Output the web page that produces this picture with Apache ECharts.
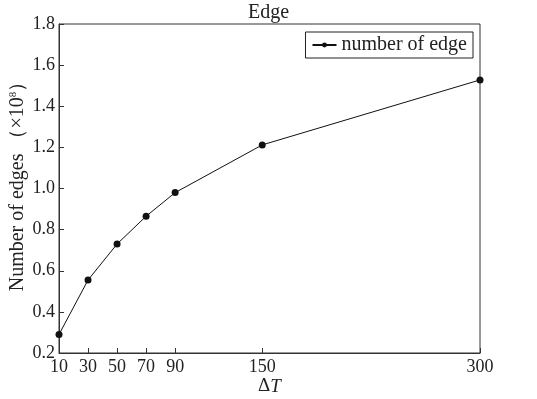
<!DOCTYPE html>
<html>
<head>
<meta charset="utf-8">
<script src="https://cdn.jsdelivr.net/npm/echarts@6/dist/echarts.min.js"></script>
<style>
html,body{margin:0;padding:0;background:#fff;}
#chart{width:537px;height:399px;}
</style>
</head>
<body>
<div id="chart"></div>
<script>
var deltaT = [10, 30, 50, 70, 90, 150, 300];
var edgeCount = [0.29, 0.555, 0.73, 0.865, 0.98, 1.212, 1.528];
var xTicks = [10, 30, 50, 70, 90, 150, 300];

var font = '"Liberation Serif", "DejaVu Serif", serif';
var chart = echarts.init(document.getElementById('chart'));

var option = {
    backgroundColor: '#fff',
    animation: false,
    title: {
        text: 'Edge',
        left: 'center',
        top: -2,
        textStyle: {fontFamily: font, fontSize: 20, fontWeight: 'normal', color: '#222'}
    },
    legend: {
        right: 64,
        top: 32,
        itemWidth: 24,
        itemHeight: 6,
        itemGap: 4,
        padding: [3, 6, 3, 6],
        borderColor: '#222',
        borderWidth: 1,
        borderRadius: 0,
        textStyle: {fontFamily: font, fontSize: 20, color: '#222'},
        data: ['number of edge']
    },
    grid: {
        left: 59,
        right: 57,
        top: 24,
        bottom: 46,
        outerBoundsMode: 'none',
        containLabel: false,
        show: true,
        borderColor: '#333',
        borderWidth: 1
    },
    xAxis: {
        type: 'value',
        min: 10,
        max: 300,
        name: '{d|Δ}{t|T}',
        nameLocation: 'middle',
        nameGap: 24,
        nameMoveOverlap: false,
        nameTextStyle: {
            rich: {
                d: {fontFamily: font, fontSize: 19, color: '#222'},
                t: {fontFamily: font, fontSize: 19, fontStyle: 'italic', color: '#222'}
            }
        },
        axisLine: {lineStyle: {color: '#333'}},
        axisTick: {inside: true, length: 5, customValues: xTicks, lineStyle: {color: '#333'}},
        axisLabel: {customValues: xTicks, fontFamily: font, fontSize: 18, color: '#222', margin: 5},
        splitLine: {show: false}
    },
    yAxis: {
        type: 'value',
        min: 0.2,
        max: 1.8,
        interval: 0.2,
        name: 'Number of edges （×10{s|8}）',
        nameLocation: 'middle',
        nameRotate: 90,
        nameGap: 31,
        nameMoveOverlap: false,
        nameTextStyle: {
            fontFamily: font, fontSize: 20, color: '#222', padding: [0, 0, 0, 14],
            rich: {s: {fontFamily: font, fontSize: 11, color: '#222', verticalAlign: 'top', padding: [0, 0, 9, 0]}}
        },
        axisLine: {lineStyle: {color: '#333'}},
        axisTick: {inside: true, length: 5, lineStyle: {color: '#333'}},
        axisLabel: {
            fontFamily: font, fontSize: 18, color: '#222', margin: 4,
            formatter: function (v) { return v.toFixed(1); }
        },
        splitLine: {show: false}
    },
    series: [{
        name: 'number of edge',
        type: 'line',
        data: deltaT.map(function (t, i) { return [t, edgeCount[i]]; }),
        symbol: 'circle',
        symbolSize: 7,
        color: '#111',
        lineStyle: {width: 1, color: '#111'},
        itemStyle: {color: '#111'}
    }]
};
chart.setOption(option);
</script>
</body>
</html>
